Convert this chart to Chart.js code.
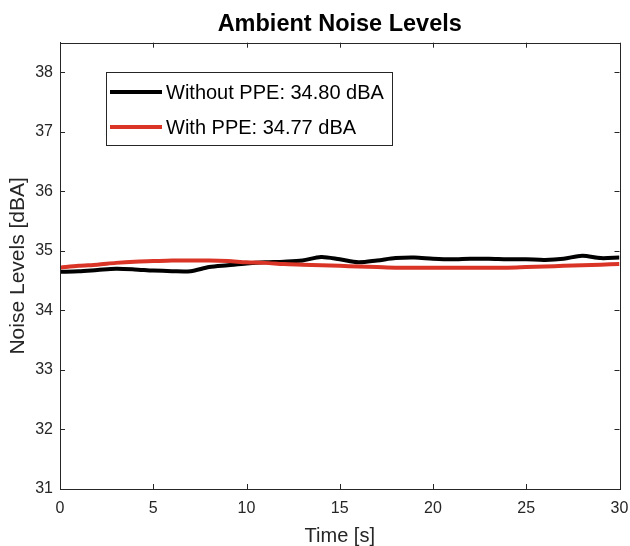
<!DOCTYPE html>
<html>
<head>
<meta charset="utf-8">
<script src="https://cdn.jsdelivr.net/npm/chart.js@4/dist/chart.umd.min.js"></script>
<style>
  html, body { margin: 0; padding: 0; background: #fff; }
  #wrap { width: 630px; height: 546px; }
</style>
</head>
<body>
<div id="wrap"><canvas id="c" width="630" height="546"></canvas></div>
<script>
// Datos (dBA cada segundo)
const timeSec = [0, 1, 2, 3, 4, 5, 6, 7, 8, 9, 10, 11, 12, 13, 14, 15, 16, 17, 18, 19, 20, 21, 22, 23, 24, 25, 26, 27, 28, 29, 30];
const withoutPPE = [34.65, 34.66, 34.68, 34.70, 34.69, 34.67, 34.66, 34.66, 34.73, 34.76, 34.79, 34.81, 34.82, 34.84, 34.90, 34.86,
  34.81, 34.84, 34.88, 34.89, 34.87, 34.86, 34.87, 34.87, 34.86, 34.86, 34.85, 34.87, 34.92, 34.88, 34.89];
const withPPE = [34.72, 34.75, 34.77, 34.80, 34.82, 34.83, 34.84, 34.84, 34.84, 34.83, 34.81, 34.80, 34.78, 34.77, 34.76, 34.75,
  34.74, 34.73, 34.72, 34.72, 34.72, 34.72, 34.72, 34.72, 34.72, 34.73, 34.74, 34.75, 34.76, 34.77, 34.78];
const seriesLabels = ['Without PPE: 34.80 dBA', 'With PPE: 34.77 dBA'];
const seriesColors = ['#000000', '#da3427'];
const xRange = [0, 30];
const yRange = [31, 38.5];

const FONT = '"Liberation Sans", Arial, Helvetica, sans-serif';
const AXIS = '#262626';

const toPoints = (ys) => ys.map((y, i) => ({ x: timeSec[i], y }));

// Caja tipo MATLAB con marcas hacia dentro en los cuatro lados
const boxAxes = {
  id: 'boxAxes',
  afterDatasetsDraw(chart) {
    const { ctx, chartArea: a, scales: { x, y } } = chart;
    const L = 5;
    ctx.save();
    ctx.strokeStyle = AXIS;
    ctx.lineWidth = 1;
    ctx.strokeRect(Math.round(a.left) + 0.5, Math.round(a.top) + 0.5,
      Math.round(a.right - a.left), Math.round(a.bottom - a.top));
    ctx.beginPath();
    x.ticks.forEach((t) => {
      const px = Math.round(x.getPixelForValue(t.value)) + 0.5;
      ctx.moveTo(px, a.bottom); ctx.lineTo(px, a.bottom - L);
      ctx.moveTo(px, a.top); ctx.lineTo(px, a.top + L);
    });
    y.ticks.forEach((t) => {
      const py = Math.round(y.getPixelForValue(t.value)) + 0.5;
      ctx.moveTo(a.left, py); ctx.lineTo(a.left + L, py);
      ctx.moveTo(a.right, py); ctx.lineTo(a.right - L, py);
    });
    ctx.stroke();
    ctx.restore();
  },
};

// Leyenda en caja, esquina superior izquierda
const boxLegend = {
  id: 'boxLegend',
  afterDraw(chart) {
    const { ctx } = chart;
    const bx = 106.5, by = 72.5, bw = 286, bh = 73;
    ctx.save();
    ctx.fillStyle = '#fff';
    ctx.fillRect(bx, by, bw, bh);
    ctx.strokeStyle = '#262626';
    ctx.lineWidth = 1;
    ctx.strokeRect(bx, by, bw, bh);
    ctx.font = '20px ' + FONT;
    ctx.textBaseline = 'middle';
    ctx.fillStyle = '#000';
    const rows = [92, 127];
    chart.data.datasets.forEach((ds, i) => {
      const yy = rows[i];
      ctx.strokeStyle = ds.borderColor;
      ctx.lineWidth = 4;
      ctx.beginPath();
      ctx.moveTo(110, yy); ctx.lineTo(162, yy);
      ctx.stroke();
      ctx.fillText(ds.label, 166, yy + 1);
    });
    ctx.restore();
  },
};

new Chart(document.getElementById('c'), {
  type: 'line',
  data: {
    datasets: [
      { label: seriesLabels[0], data: toPoints(withoutPPE), borderColor: seriesColors[0], borderWidth: 4,
        pointRadius: 0, tension: 0.3, order: 2 },
      { label: seriesLabels[1], data: toPoints(withPPE), borderColor: seriesColors[1], borderWidth: 4,
        pointRadius: 0, tension: 0.3, order: 1 },
    ],
  },
  options: {
    responsive: false,
    animation: false,
    devicePixelRatio: 1,
    layout: { padding: { left: 0, right: 10.5, top: 0, bottom: 0 } },
    plugins: {
      legend: { display: false },
      tooltip: { enabled: false },
      title: {
        display: true,
        fullSize: false,
        text: 'Ambient Noise Levels',
        color: '#000',
        font: { family: FONT, size: 23.5, weight: 'bold' },
        padding: { top: 10, bottom: 4.5 },
      },
    },
    scales: {
      x: {
        type: 'linear', min: xRange[0], max: xRange[1],
        ticks: { stepSize: 5, color: AXIS, font: { family: FONT, size: 16 }, padding: 10, maxRotation: 0 },
        grid: { drawOnChartArea: false, drawTicks: false },
        border: { color: AXIS },
        title: { display: true, text: 'Time [s]', color: AXIS, font: { family: FONT, size: 20, lineHeight: 1 }, padding: 0 },
        afterFit(s) { s.height = 57; s.paddingLeft = 0; s.paddingRight = 0; },
      },
      y: {
        type: 'linear', min: yRange[0], max: yRange[1],
        ticks: { stepSize: 1, includeBounds: false, color: AXIS, font: { family: FONT, size: 16 }, padding: 7 },
        grid: { drawOnChartArea: false, drawTicks: false },
        border: { color: AXIS },
        title: { display: true, text: 'Noise Levels [dBA]', color: AXIS, font: { family: FONT, size: 21 }, padding: { top: 6, bottom: 0 } },
        afterFit(s) { s.width = 60; s.paddingTop = 0; s.paddingBottom = 0; },
      },
    },
  },
  plugins: [boxAxes, boxLegend],
});
</script>
</body>
</html>
